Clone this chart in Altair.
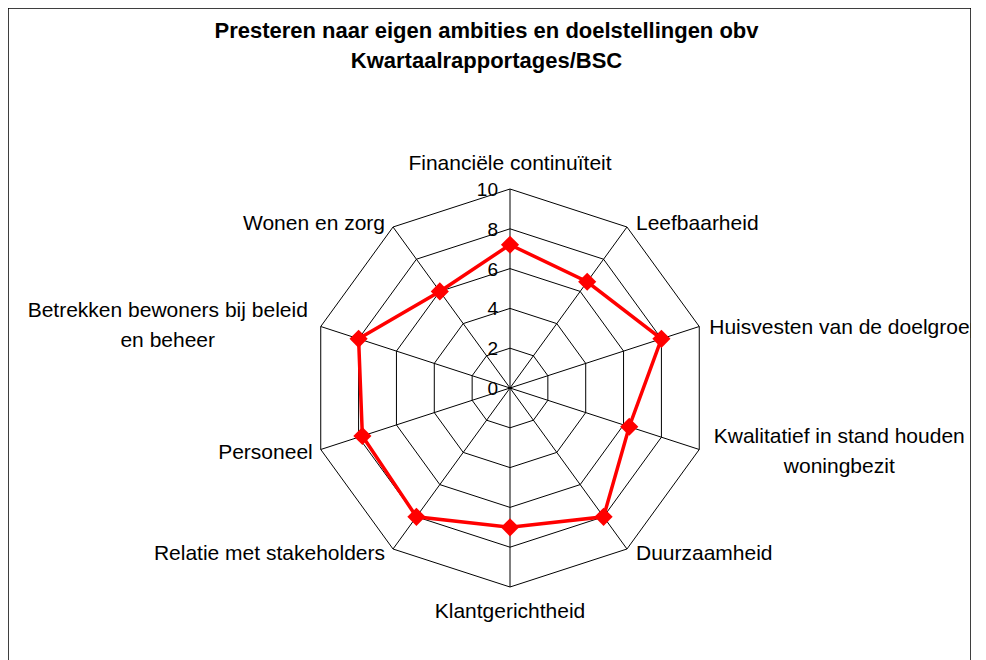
import math
import altair as alt
import pandas as pd

# ---------------- data ----------------
categories = [
    "Financiële continuïteit",
    "Leefbaarheid",
    "Huisvesten van de doelgroep",
    "Kwalitatief in stand houden\nwoningbezit",
    "Duurzaamheid",
    "Klantgerichtheid",
    "Relatie met stakeholders",
    "Personeel",
    "Betrekken bewoners bij beleid\nen beheer",
    "Wonen en zorg",
]
scores = [7.2, 6.6, 8.0, 6.3, 8.0, 7.0, 8.0, 7.8, 8.0, 6.0]
ring_values = [2, 4, 6, 8, 10]
tick_values = [0, 2, 4, 6, 8, 10]
title_lines = ["Presteren naar eigen ambities en doelstellingen obv", "Kwartaalrapportages/BSC"]

# ---------------- layout ----------------
W, H = 963, 660          # plot area (frame)
CX, CY = 502, 380        # radar centre inside the frame (px)
PX = 19.9                # pixels per score unit
RMAX = 10
FONT = "Liberation Sans, Arial, Helvetica, sans-serif"

# label placement: (align, dx px, dy px) relative to outer vertex
label_layout = [
    ("center", 0, -25),
    ("left", 9, -3),
    ("left", 10, 1),
    ("center", 140, -12),
    ("left", 9, 5),
    ("center", 0, 25),
    ("right", -8, 5),
    ("right", -8, 3.5),
    ("center", -153, -16),
    ("right", -8, -3),
]

n = len(categories)
angles = [2 * math.pi * i / n for i in range(n)]

xdom = [-CX / PX, (W - CX) / PX]
ydom = [-(H - CY) / PX, CY / PX]
xs = alt.Scale(domain=xdom, nice=False, zero=False)
ys = alt.Scale(domain=ydom, nice=False, zero=False)

def X(f="x"):
    return alt.X(f"{f}:Q", scale=xs, axis=None)

def Y(f="y"):
    return alt.Y(f"{f}:Q", scale=ys, axis=None)

# rings
ring_rows = []
for r in ring_values:
    for k in range(n + 1):
        a = angles[k % n]
        ring_rows.append({"ring": r, "k": k, "x": r * math.sin(a), "y": r * math.cos(a)})
ring_df = pd.DataFrame(ring_rows)

# spokes
spoke_df = pd.DataFrame({
    "x": [0.0] * n, "y": [0.0] * n,
    "x2": [RMAX * math.sin(a) for a in angles],
    "y2": [RMAX * math.cos(a) for a in angles],
})

# series
ser_rows = []
for k in range(n + 1):
    a = angles[k % n]
    v = scores[k % n]
    ser_rows.append({"k": k, "cat": categories[k % n], "v": v, "x": v * math.sin(a), "y": v * math.cos(a)})
ser_df = pd.DataFrame(ser_rows)
pt_df = ser_df.iloc[:n]

# tick labels
tick_df = pd.DataFrame({"v": tick_values, "t": [str(v) for v in tick_values], "x": [0.0] * len(tick_values)})

# category labels
lab_rows = []
for i, (c, a) in enumerate(zip(categories, angles)):
    al, dx, dy = label_layout[i]
    lab_rows.append({
        "cat": c, "align": al,
        "x": RMAX * math.sin(a) + dx / PX,
        "y": RMAX * math.cos(a) - dy / PX,
    })
lab_df = pd.DataFrame(lab_rows)

rings = alt.Chart(ring_df).mark_line(color="black", strokeWidth=1).encode(
    x=X(), y=Y(), detail="ring:N", order="k:Q")

spokes = alt.Chart(spoke_df).mark_rule(color="black", strokeWidth=1).encode(
    x=X(), y=Y(), x2="x2:Q", y2="y2:Q")

ticks = alt.Chart(tick_df).mark_text(
    align="right", baseline="middle", dx=-12, dy=1, fontSize=19, font=FONT, color="black"
).encode(x=X(), y=Y("v"), text="t:N")

series_line = alt.Chart(ser_df).mark_line(color="#FF0000", strokeWidth=3.5).encode(
    x=X(), y=Y(), order="k:Q")

series_pts = alt.Chart(pt_df).mark_point(
    shape="diamond", filled=True, size=330, color="#FF0000", opacity=1
).encode(x=X(), y=Y(), tooltip=["cat:N", "v:Q"])

label_layers = []
for al in ["left", "right", "center"]:
    sub = lab_df[lab_df["align"] == al]
    label_layers.append(
        alt.Chart(sub).mark_text(
            align=al, baseline="middle", fontSize=21, font=FONT, color="black",
            lineBreak="\n", lineHeight=30, clip=True
        ).encode(x=X(), y=Y(), text="cat:N")
    )

title = alt.Chart(pd.DataFrame({"t": ["\n".join(title_lines)]})).mark_text(
    align="center", baseline="middle", fontSize=22, fontWeight="bold", font=FONT,
    color="black", lineBreak="\n", lineHeight=30
).encode(x=alt.value(W / 2 - 3), y=alt.value(23), text="t:N")

chart = alt.layer(
    rings, spokes, ticks, series_line, series_pts, *label_layers, title
).properties(
    width=W, height=H, padding=0, background="white"
).configure_view(stroke="black", strokeWidth=1.5)

chart.save("out.html", embed_options={"renderer": "svg", "actions": False})
